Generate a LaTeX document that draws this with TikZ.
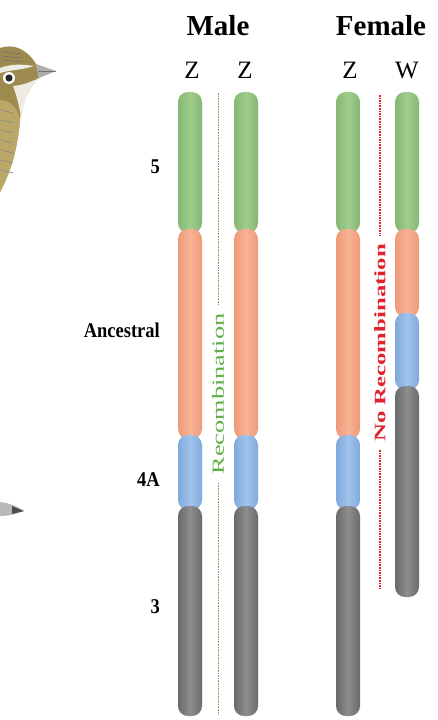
\documentclass[tikz,border=0pt]{standalone}
\usepackage{fontspec}
\setmainfont{Liberation Serif}
\usepackage{graphicx}
\definecolor{grnE}{HTML}{84B872}
\definecolor{grnM}{HTML}{A0CD8C}
\definecolor{orgE}{HTML}{EE9A78}
\definecolor{orgM}{HTML}{F8B294}
\definecolor{bluE}{HTML}{7FA9DC}
\definecolor{bluM}{HTML}{A2C3EC}
\definecolor{gryE}{HTML}{6A6A6A}
\definecolor{gryM}{HTML}{8E8E8E}
\definecolor{recgreen}{HTML}{5FAE45}
\definecolor{norec}{HTML}{E0242E}
\definecolor{birdolive}{HTML}{9C8A4E}
\definecolor{birdbreast}{HTML}{BBA866}
\definecolor{birdpale}{HTML}{EDEBE2}
% chromosome segment between two heights, centred on x
\newcommand\chromseg[4]{\path[#4] ({#1-12},#2) rectangle ({#1+12},#3);}
\newcommand\narrow[1]{\scalebox{0.88}[1]{#1}}
\begin{document}
\begin{tikzpicture}[x=1pt,y=-1pt,
  seg/.style={rounded corners=10pt},
  green seg/.style={seg,left color=grnE,right color=grnE,middle color=grnM},
  orange seg/.style={seg,left color=orgE,right color=orgE,middle color=orgM},
  blue seg/.style={seg,left color=bluE,right color=bluE,middle color=bluM},
  gray seg/.style={seg,left color=gryE,right color=gryE,middle color=gryM},
  header/.style={font=\fontsize{29}{29}\selectfont\bfseries,anchor=base},
  sexchr/.style={font=\fontsize{25}{25}\selectfont,anchor=base},
  label/.style={font=\fontsize{21}{21}\selectfont\bfseries,anchor=east,inner sep=0pt},
  recline/.style={recgreen,line width=1pt,dash pattern=on 1.6pt off 1pt},
  norecline/.style={norec,line width=1.2pt,dash pattern=on 1.6pt off 1pt}]
\useasboundingbox (0,0) rectangle (438,720);

% bird head, top left
\fill[birdolive] (0,48) .. controls (14,43) and (28,50) .. (36,64)
  -- (39,78) .. controls (30,86) and (22,100) .. (20,120)
  .. controls (18,145) and (12,170) .. (0,192) -- cycle;
\fill[birdbreast] (0,100) .. controls (10,100) and (18,108) .. (20,120)
  .. controls (18,145) and (12,170) .. (0,192) -- cycle;
\fill[birdpale] (13,86) .. controls (24,85) and (33,81) .. (39,78)
  .. controls (30,88) and (24,100) .. (21,118)
  .. controls (19,104) and (16,94) .. (13,86) -- cycle;
\fill[birdpale] (0,68) .. controls (10,64) and (22,64) .. (34,66)
  .. controls (22,70) and (10,70) .. (0,73) -- cycle;
\foreach \y in {52,56,60} \draw[black!55,line width=0.6pt] (2,\y) -- (22,{\y+2});
\foreach \y in {110,120,130,140,150,160,170} \draw[black!45,line width=0.8pt] (1,\y) -- (13,{\y+3});
\fill[white] (9,78) circle (6);
\fill[black!85] (9,78) circle (3.6);
\fill[gray!65] (36,64) -- (56,71) -- (39,78) -- cycle;
\draw[gray!90!black,line width=0.5pt] (38,71) -- (56,71);

% second bird, bill at left edge
\fill[gray!55] (0,502) .. controls (10,503) and (18,507) .. (24,511)
  .. controls (16,514) and (8,516) .. (0,516) -- cycle;
\fill[black!70] (12,506) .. controls (18,508) .. (24,511) .. controls (18,513) .. (12,514) -- cycle;

% headers
\node[header] (male) at (218,35) {Male};
\node[header] (female) at (381,35) {Female};
\node[sexchr] (z1) at (192,78) {Z};
\node[sexchr] (z2) at (245,78) {Z};
\node[sexchr] (z3) at (350,78) {Z};
\node[sexchr] (w) at (407,78) {W};

% row labels
\node[label] (l5) at (160,167) {\narrow{5}};
\node[label] (lanc) at (160,330) {\narrow{Ancestral}};
\node[label] (l4a) at (160,480) {\narrow{4A}};
\node[label] (l3) at (160,607) {\narrow{3}};

% male Z chromosomes and female Z
\foreach \cx in {190,246,348} {
  \chromseg{\cx}{92}{233}{green seg}
  \chromseg{\cx}{229}{439}{orange seg}
  \chromseg{\cx}{435}{510}{blue seg}
  \chromseg{\cx}{506}{716}{gray seg}
}
% W chromosome
\chromseg{407}{92}{233}{green seg}
\chromseg{407}{229}{317}{orange seg}
\chromseg{407}{313}{390}{blue seg}
\chromseg{407}{386}{597}{gray seg}

% recombination between the two Z
\node[rotate=90,text=recgreen,font=\fontsize{17}{17}\selectfont,inner sep=8pt] (rec) at (218,394)
  {\scalebox{1.55}[1]{Recombination}};
\coordinate (rectop) at (218,93);
\coordinate (recbot) at (218,715);
\draw[recline] (rectop) -- (rec.east);
\draw[recline] (rec.west) -- (recbot);

% no recombination between Z and W
\node[rotate=90,text=norec,font=\fontsize{16}{16}\selectfont\bfseries,inner sep=8pt] (norec) at (380,343)
  {\scalebox{1.55}[1]{No Recombination}};
\coordinate (nrtop) at (380,95);
\coordinate (nrbot) at (380,588);
\draw[norecline] (nrtop) -- (norec.east);
\draw[norecline] (norec.west) -- (nrbot);
\end{tikzpicture}
\end{document}
